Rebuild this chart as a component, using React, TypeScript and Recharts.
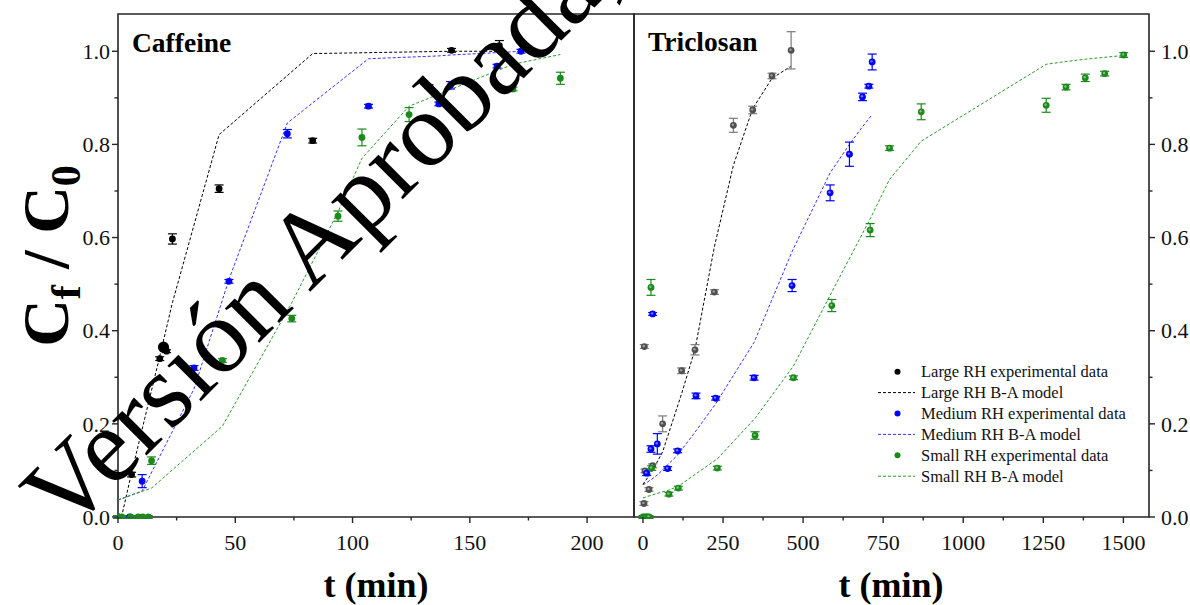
import React from 'react';
import { ComposedChart, Line, Scatter, ErrorBar, XAxis, YAxis, ReferenceArea } from 'recharts';

const SERIF = '"Liberation Serif", "Times New Roman", serif';
const AXIS = '#262626';

// Caffeine breakthrough: [t (min), Cf/C0, sd]
const cafLargeExp = [
  [0, 0, 0.003], [5.8, 0.091, 0.005], [17.8, 0.34, 0.004], [20.7, 0.356, 0.003], [23.2, 0.597, 0.011],
  [43.1, 0.705, 0.008], [83.0, 0.808, 0.005], [132.6, 0.924, 0.004], [142.2, 1.002, 0.004], [162.6, 1.012, 0.011],
];
const cafLargeModel = [
  [1.5, 0], [5.8, 0.095], [17.8, 0.345], [23.2, 0.46], [43.1, 0.821], [83.0, 0.995], [142.2, 1.0], [162.6, 1.0],
];
const cafMediumExp = [
  [0, 0, 0.003], [5, 0, 0.003], [10.3, 0.077, 0.014], [32.4, 0.32, 0.005], [47.3, 0.506, 0.004],
  [72.2, 0.823, 0.009], [106.8, 0.882, 0.004], [136.8, 0.887, 0.004], [141.8, 0.927, 0.008],
  [161.6, 0.968, 0.004], [171.8, 1.0, 0.004],
];
const cafMediumModel = [
  [0, 0.036], [10.3, 0.056], [32.4, 0.275], [47.3, 0.51], [72.2, 0.846], [106.8, 0.984],
  [136.8, 0.99], [141.8, 0.992], [161.6, 0.997], [171.8, 1.0],
];
const cafSmallExp = [
  [0, 0, 0.003], [1.6, 0, 0.003], [5.4, 0, 0.003], [8.6, 0, 0.003], [10.5, 0, 0.003], [12.9, 0, 0.003],
  [14.3, 0.121, 0.008], [44.5, 0.336, 0.004], [74.1, 0.426, 0.007], [93.8, 0.646, 0.011],
  [104.0, 0.815, 0.018], [124.1, 0.864, 0.015], [168.4, 0.919, 0.004], [188.6, 0.942, 0.013],
];
const cafSmallModel = [
  [0, 0.037], [14.3, 0.062], [44.5, 0.195], [74.1, 0.46], [93.8, 0.655], [104.0, 0.77],
  [124.1, 0.882], [168.4, 0.972], [188.6, 0.993],
];

// Triclosan breakthrough
const triLargeExp = [
  [3.1, 0.029, 0.004], [6.3, 0.099, 0.004], [4.2, 0.366, 0.004], [18.8, 0.059, 0.004], [30.2, 0.11, 0.004],
  [61.4, 0.2, 0.017], [120.8, 0.314, 0.006], [162.5, 0.359, 0.011], [222.9, 0.483, 0.005],
  [282.3, 0.841, 0.015], [342.7, 0.874, 0.008], [403.0, 0.947, 0.006], [462.5, 1.002, 0.04],
];
const triLargeModel = [
  [0, 0.07], [30.2, 0.1], [61.4, 0.14], [120.8, 0.265], [162.5, 0.36], [222.9, 0.58],
  [282.3, 0.755], [342.7, 0.877], [403.0, 0.942], [462.5, 0.968],
];
const triMediumExp = [
  [11.5, 0.094, 0.005], [25.0, 0.146, 0.007], [30.2, 0.436, 0.003], [44.8, 0.157, 0.022], [77.0, 0.104, 0.004],
  [108.3, 0.142, 0.004], [165.6, 0.26, 0.006], [227.0, 0.255, 0.004], [346.9, 0.299, 0.005],
  [465.6, 0.497, 0.013], [584.4, 0.696, 0.017], [644.7, 0.779, 0.026], [685.4, 0.902, 0.008],
  [705.2, 0.925, 0.004], [715.6, 0.977, 0.017],
];
const triMediumModel = [
  [0, 0.069], [11.5, 0.074], [25, 0.08], [44.8, 0.09], [77, 0.112], [108.3, 0.133], [165.6, 0.185],
  [227, 0.243], [346.9, 0.375], [465.6, 0.57], [584.4, 0.739], [644.7, 0.8], [685.4, 0.838],
  [705.2, 0.855], [715.6, 0.864],
];
const triSmallExp = [
  [0, 0, 0.003], [5, 0, 0.003], [10, 0, 0.003], [15, 0, 0.003], [19, 0, 0.003],
  [25.0, 0.493, 0.017], [27.0, 0.105, 0.005], [81.0, 0.049, 0.004], [110.4, 0.062, 0.004],
  [232.3, 0.105, 0.004], [350.0, 0.175, 0.008], [469.8, 0.299, 0.004], [589.6, 0.454, 0.013],
  [709.4, 0.616, 0.014], [770.0, 0.792, 0.005], [868.8, 0.87, 0.017], [1259, 0.884, 0.015],
  [1321, 0.923, 0.006], [1381, 0.943, 0.008], [1441.6, 0.952, 0.005], [1501, 0.992, 0.005],
];
const triSmallModel = [
  [0, 0.041], [27, 0.047], [81, 0.058], [110.4, 0.066], [232.3, 0.125], [350, 0.212], [469.8, 0.324],
  [589.6, 0.483], [709.4, 0.64], [770, 0.725], [868.8, 0.807], [1259, 0.972], [1321, 0.978],
  [1381, 0.983], [1441.6, 0.987], [1501, 0.991],
];

const yTicks = [0, 0.1, 0.2, 0.3, 0.4, 0.5, 0.6, 0.7, 0.8, 0.9, 1.0];
const cafXTicks = [0, 25, 50, 75, 100, 125, 150, 175, 200];
const triXTicks = [0, 125, 250, 375, 500, 625, 750, 875, 1000, 1125, 1250, 1375, 1500];

const legendItems = [
  { kind: 'dot', color: '#000000', text: 'Large RH experimental data' },
  { kind: 'line', color: '#000000', text: 'Large RH B-A model' },
  { kind: 'dot', color: '#0000ff', text: 'Medium RH experimental data' },
  { kind: 'line', color: '#3333ff', text: 'Medium RH B-A model' },
  { kind: 'dot', color: '#1a8a1a', text: 'Small RH experimental data' },
  { kind: 'line', color: '#2a9a2a', text: 'Small RH B-A model' },
];

const BLACK = '#000000';
const GRAY = '#505050';
const BLUE = '#0000ff';
const BLUE_LINE = '#3333ff';
const GREEN = '#1a8a1a';
const GREEN_LINE = '#2a9a2a';
const dash = '3 2';

const pts = (rows: number[][]) => rows.map(([t, v, e]) => ({ t, v, e }));
const line = (rows: number[][]) => rows.map(([t, v]) => ({ t, v }));

const isMajorY = (v: number) => Math.round(v * 10) % 2 === 0;

function makeXTick(step: number) {
  return (props: any) => {
    const { x, y, payload } = props;
    const major = payload.value % step === 0;
    return (
      <g>
        <line x1={x} x2={x} y1={y} y2={y + (major ? 6 : 3.5)} stroke={AXIS} strokeWidth={1.4} />
        {major && (
          <text x={x} y={y + 33} textAnchor="middle" fontFamily={SERIF} fontSize={22} fill="#111">
            {payload.value}
          </text>
        )}
      </g>
    );
  };
}

function LeftYTick(props: any) {
  const { x, y, payload } = props;
  const major = isMajorY(payload.value);
  return (
    <g>
      <line x1={x} x2={x - (major ? 6 : 3.5)} y1={y} y2={y} stroke={AXIS} strokeWidth={1.4} />
      {major && (
        <text x={x - 8} y={y} dy="0.35em" textAnchor="end" fontFamily={SERIF} fontSize={22} fill="#111">
          {payload.value.toFixed(1)}
        </text>
      )}
    </g>
  );
}

function RightYTick(props: any) {
  const { x, y, payload } = props;
  const major = isMajorY(payload.value);
  return (
    <g>
      <line x1={x} x2={x + (major ? 6 : 3.5)} y1={y} y2={y} stroke={AXIS} strokeWidth={1.4} />
      {major && (
        <text x={x + 12} y={y} dy="0.35em" textAnchor="start" fontFamily={SERIF} fontSize={22} fill="#111">
          {payload.value.toFixed(1)}
        </text>
      )}
    </g>
  );
}

const dot = (fill: string, shine = false) => (props: any) => {
  const { cx, cy } = props;
  if (cx == null || cy == null) return <g />;
  return (
    <g>
      <circle cx={cx} cy={cy} r={3.4} fill={fill} />
      {shine && <circle cx={cx - 0.6} cy={cy - 0.6} r={1.2} fill="#ffffff" fillOpacity={0.45} />}
    </g>
  );
};

function Legend() {
  const top = 371.7;
  const gap = 20.9;
  return (
    <g>
      {legendItems.map((it, i) => {
        const cy = top + i * gap;
        return (
          <g key={it.text}>
            {it.kind === 'dot' ? (
              <circle cx={897.5} cy={cy} r={3} fill={it.color} />
            ) : (
              <line x1={878} x2={915} y1={cy} y2={cy} stroke={it.color} strokeWidth={1} strokeDasharray={dash} />
            )}
            <text x={921} y={cy + 5.5} fontFamily={SERIF} fontSize={16.5} fill="#111">
              {it.text}
            </text>
          </g>
        );
      })}
    </g>
  );
}

export default function App() {
  return (
    <div style={{ position: 'absolute', left: 0, top: 0, width: 1190, height: 605, background: '#fff', overflow: 'hidden' }}>
      {/* Caffeine panel */}
      <div style={{ position: 'absolute', left: 0, top: 0 }}>
        <ComposedChart width={640} height={605} margin={{ top: 14, right: 6, bottom: 0, left: 0 }}>
          <XAxis
            type="number"
            dataKey="t"
            domain={[0, 220]}
            allowDataOverflow
            ticks={cafXTicks}
            interval={0}
            tickSize={0}
            tickMargin={0}
            tickLine={false}
            axisLine={false}
            height={88}
            tick={makeXTick(50)}
          />
          <YAxis
            type="number"
            dataKey="v"
            domain={[0, 1.08]}
            allowDataOverflow
            ticks={yTicks}
            interval={0}
            tickSize={0}
            tickMargin={0}
            tickLine={false}
            axisLine={false}
            width={118}
            tick={<LeftYTick />}
          />
          <Line data={line(cafLargeModel)} dataKey="v" type="linear" stroke={BLACK} strokeWidth={1} strokeDasharray={dash} dot={false} isAnimationActive={false} />
          <Line data={line(cafMediumModel)} dataKey="v" type="linear" stroke={BLUE_LINE} strokeWidth={1} strokeDasharray={dash} dot={false} isAnimationActive={false} />
          <Line data={line(cafSmallModel)} dataKey="v" type="linear" stroke={GREEN_LINE} strokeWidth={1} strokeDasharray={dash} dot={false} isAnimationActive={false} />
          <Scatter data={pts(cafLargeExp)} dataKey="v" shape={dot(BLACK)} isAnimationActive={false}>
            <ErrorBar dataKey="e" direction="y" width={4.5} stroke={BLACK} strokeWidth={1.2} />
          </Scatter>
          <Scatter data={pts(cafMediumExp)} dataKey="v" shape={dot(BLUE)} isAnimationActive={false}>
            <ErrorBar dataKey="e" direction="y" width={4.5} stroke={BLUE} strokeWidth={1.2} />
          </Scatter>
          <Scatter data={pts(cafSmallExp)} dataKey="v" shape={dot(GREEN)} isAnimationActive={false}>
            <ErrorBar dataKey="e" direction="y" width={4.5} stroke={GREEN} strokeWidth={1.2} />
          </Scatter>
          <ReferenceArea x1={0} x2={220} y1={0} y2={1.08} fill="none" stroke={AXIS} strokeWidth={1.6} ifOverflow="visible" />
        </ComposedChart>
      </div>

      {/* Triclosan panel */}
      <div style={{ position: 'absolute', left: 628, top: 0 }}>
        <ComposedChart width={562} height={605} margin={{ top: 14, right: 0, bottom: 0, left: 6 }}>
          <XAxis
            type="number"
            dataKey="t"
            domain={[-28, 1580]}
            allowDataOverflow
            ticks={triXTicks}
            interval={0}
            tickSize={0}
            tickMargin={0}
            tickLine={false}
            axisLine={false}
            height={88}
            tick={makeXTick(250)}
          />
          <YAxis
            type="number"
            dataKey="v"
            orientation="right"
            domain={[0, 1.08]}
            allowDataOverflow
            ticks={yTicks}
            interval={0}
            tickSize={0}
            tickMargin={0}
            tickLine={false}
            axisLine={false}
            width={41}
            tick={<RightYTick />}
          />
          <Line data={line(triLargeModel)} dataKey="v" type="linear" stroke={BLACK} strokeWidth={1} strokeDasharray={dash} dot={false} isAnimationActive={false} />
          <Line data={line(triMediumModel)} dataKey="v" type="linear" stroke={BLUE_LINE} strokeWidth={1} strokeDasharray={dash} dot={false} isAnimationActive={false} />
          <Line data={line(triSmallModel)} dataKey="v" type="linear" stroke={GREEN_LINE} strokeWidth={1} strokeDasharray={dash} dot={false} isAnimationActive={false} />
          <Scatter data={pts(triLargeExp)} dataKey="v" shape={dot(GRAY, true)} isAnimationActive={false}>
            <ErrorBar dataKey="e" direction="y" width={4.5} stroke="#7a7a7a" strokeWidth={1.2} />
          </Scatter>
          <Scatter data={pts(triMediumExp)} dataKey="v" shape={dot(BLUE, true)} isAnimationActive={false}>
            <ErrorBar dataKey="e" direction="y" width={4.5} stroke={BLUE} strokeWidth={1.2} />
          </Scatter>
          <Scatter data={pts(triSmallExp)} dataKey="v" shape={dot(GREEN, true)} isAnimationActive={false}>
            <ErrorBar dataKey="e" direction="y" width={4.5} stroke={GREEN} strokeWidth={1.2} />
          </Scatter>
          <ReferenceArea x1={-28} x2={1580} y1={0} y2={1.08} fill="none" stroke={AXIS} strokeWidth={1.6} ifOverflow="visible" />
        </ComposedChart>
      </div>

      {/* titles, legend and the diagonal stamp */}
      <svg width={1190} height={605} style={{ position: 'absolute', left: 0, top: 0, pointerEvents: 'none' }}>
        <text x={132} y={52} fontFamily={SERIF} fontWeight="bold" fontSize={27.5} fill="#000">Caffeine</text>
        <text x={648} y={51} fontFamily={SERIF} fontWeight="bold" fontSize={27.5} fill="#000">Triclosan</text>
        <text x={376} y={597} textAnchor="middle" fontFamily={SERIF} fontWeight="bold" fontSize={36} fill="#000">t (min)</text>
        <text x={891} y={597} textAnchor="middle" fontFamily={SERIF} fontWeight="bold" fontSize={36} fill="#000">t (min)</text>
        <text transform="translate(68, 256) rotate(-90)" textAnchor="middle" fontFamily={SERIF} fontWeight="bold" fontSize={66} fill="#000">
          C<tspan fontSize={42} dy={12}>f</tspan><tspan dy={-12}> / C</tspan><tspan fontSize={42} dy={12}>0</tspan>
        </text>
        <Legend />
        <text transform="translate(66, 536) rotate(-45)" fontFamily={SERIF} fontSize={106} fill="#000">
          Versión Aprobada,
        </text>
      </svg>
    </div>
  );
}
